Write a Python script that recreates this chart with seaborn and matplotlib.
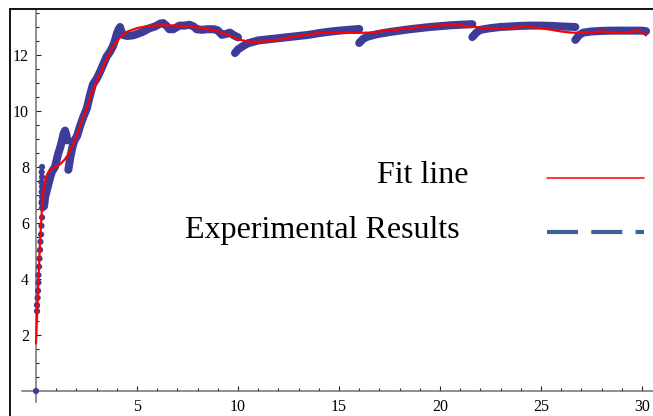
import matplotlib
matplotlib.use("Agg")
import matplotlib.pyplot as plt
from matplotlib.lines import Line2D
from matplotlib.ticker import FixedLocator
import numpy as np
import pandas as pd
import seaborn as sns

# ---- experimental results: isolated early samples ----
dot_x = [0.0, 0.05, 0.05, 0.08, 0.1, 0.12, 0.12, 0.15, 0.17, 0.2, 0.22, 0.25, 0.27,
         0.3, 0.33, 0.3, 0.28, 0.3, 0.28, 0.3, 0.27, 0.3, 0.28, 0.3, 0.28]
dot_y = [0.0, 2.85, 3.07, 3.33, 3.58, 3.87, 4.14, 4.44, 4.73, 5.04, 5.33, 5.59, 5.90,
         6.20, 6.52, 6.54, 6.71, 6.93, 7.11, 7.29, 7.46, 7.64, 7.82, 8.0, 6.76]

# ---- experimental results: dense recorded runs ----
run1_x = [0.4, 0.45, 0.55, 0.69, 0.8, 0.94, 1.09, 1.2, 1.29, 1.37, 1.44, 1.5, 1.55]
run1_y = [6.6, 6.93, 7.2, 7.6, 7.85, 8.0, 8.45, 8.7, 8.95, 9.2, 9.3, 9.15, 8.95]

run2_x = [1.6, 1.7, 1.8, 1.9, 2.03, 2.2, 2.35, 2.52, 2.65, 2.82, 3.0, 3.17, 3.35,
          3.5, 3.65, 3.8, 3.9, 4.0, 4.08, 4.16, 4.22, 4.3, 4.5, 4.8, 5.0, 5.3, 5.6,
          5.9, 6.14, 6.3, 6.45, 6.6, 6.8, 7.1, 7.35, 7.6, 7.8, 7.95, 8.2, 8.5, 8.8,
          9.0, 9.2, 9.4, 9.6, 9.8, 10.0]
run2_y = [7.9, 8.35, 8.7, 8.95, 9.1, 9.5, 9.8, 10.1, 10.5, 10.95, 11.15, 11.4, 11.7,
          11.95, 12.1, 12.3, 12.5, 12.75, 12.9, 13.0, 12.85, 12.72, 12.68, 12.7, 12.75,
          12.83, 12.95, 13.02, 13.12, 13.14, 13.05, 12.92, 12.92, 13.05, 13.05, 13.08,
          13.02, 12.92, 12.9, 12.92, 12.92, 12.88, 12.72, 12.75, 12.8, 12.7, 12.63]

run3_x = [9.85, 10.0, 10.25, 10.5, 10.75, 11.0, 11.5, 12.0, 12.5, 13.0, 13.5, 14.0,
          14.5, 15.0, 15.5, 16.0]
run3_y = [12.07, 12.2, 12.32, 12.42, 12.47, 12.52, 12.56, 12.6, 12.64, 12.68, 12.72,
          12.78, 12.83, 12.87, 12.9, 12.93]

run4_x = [16.0, 16.2, 16.4, 16.75, 17.0, 17.5, 18.0, 18.5, 19.0, 19.5, 20.0, 20.5,
          21.0, 21.6]
run4_y = [12.43, 12.58, 12.65, 12.72, 12.76, 12.82, 12.87, 12.92, 12.96, 13.0, 13.03,
          13.06, 13.08, 13.1]

run5_x = [21.6, 21.8, 22.0, 22.5, 23.0, 23.5, 24.0, 24.5, 25.0, 25.5, 26.0, 26.7]
run5_y = [12.64, 12.8, 12.9, 12.96, 13.0, 13.02, 13.04, 13.05, 13.05, 13.04, 13.02, 13.0]

run6_x = [26.7, 26.9, 27.1, 27.5, 28.0, 28.5, 29.0, 29.5, 30.0, 30.2]
run6_y = [12.54, 12.72, 12.8, 12.84, 12.86, 12.87, 12.87, 12.87, 12.87, 12.85]

# ---- fitted curve ----
fit_x = [0.0, 0.1, 0.2, 0.3, 0.4, 0.5, 0.6, 0.8, 1.0, 1.2, 1.4, 1.6, 1.8, 2.0, 2.25,
         2.5, 2.75, 3.0, 3.25, 3.5, 3.75, 4.0, 4.25, 4.5, 5.0, 5.5, 6.0, 6.5, 7.0, 7.5,
         8.0, 8.5, 9.0, 9.5, 10.0, 10.5, 11.0, 11.5, 12.0, 12.5, 13.0, 13.5, 14.0,
         14.5, 15.0, 15.5, 16.0, 16.5, 17.0, 17.5, 18.0, 18.5, 19.0, 19.5, 20.0, 20.5,
         21.0, 21.5, 22.0, 22.5, 23.0, 23.5, 24.0, 24.5, 25.0, 25.5, 26.0, 26.5, 27.0,
         27.5, 28.0, 28.5, 29.0, 29.5, 29.8, 30.0, 30.2]
fit_y = [1.7, 3.6, 5.3, 6.6, 7.3, 7.65, 7.8, 7.95, 8.02, 8.1, 8.25, 8.45, 8.75, 9.1,
         9.6, 10.1, 10.6, 11.05, 11.45, 11.85, 12.2, 12.5, 12.7, 12.83, 12.96, 13.03,
         13.06, 13.06, 13.05, 13.03, 12.98, 12.92, 12.85, 12.72, 12.56, 12.48, 12.47,
         12.5, 12.55, 12.62, 12.68, 12.74, 12.78, 12.8, 12.8, 12.79, 12.79, 12.8, 12.84,
         12.88, 12.92, 12.96, 13.0, 13.03, 13.06, 13.07, 13.06, 13.02, 12.98, 12.95,
         12.94, 12.96, 13.0, 13.0, 12.96, 12.9, 12.84, 12.8, 12.79, 12.81, 12.84, 12.82,
         12.79, 12.83, 12.86, 12.82, 12.7]

x_ticks = [5, 10, 15, 20, 25, 30]
y_ticks = [2, 4, 6, 8, 10, 12]
legend_labels = ["Fit line", "Experimental Results"]

runs = [(run1_x, run1_y), (run2_x, run2_y), (run3_x, run3_y),
        (run4_x, run4_y), (run5_x, run5_y), (run6_x, run6_y)]
exp_df = pd.concat(
    [pd.DataFrame({"x": rx, "y": ry, "run": i}) for i, (rx, ry) in enumerate(runs)],
    ignore_index=True)
fit_df = pd.DataFrame({"x": fit_x, "y": fit_y})

sns.set_theme(style="ticks")
plt.rcParams["font.family"] = ["Liberation Serif", "DejaVu Serif"]

W, H = 653, 416
fig = plt.figure(figsize=(W / 100, H / 100), dpi=100)
ax = fig.add_axes([0, 0, 1, 1])
ax.set_facecolor("white")

# axes origin sits at (36 px, 391 px from top); 20.2 px per x unit, 28 px per y unit
ax.set_xlim(-36 / 20.2, (W - 36) / 20.2)
ax.set_ylim(-(H - 391) / 28, 391 / 28)

point_col = "#3d3d99"
sns.lineplot(data=exp_df, x="x", y="y", units="run", estimator=None, sort=False,
             color=point_col, lw=5.8, solid_capstyle="round", solid_joinstyle="round",
             legend=False, ax=ax)
sns.scatterplot(x=dot_x, y=dot_y, s=20, color=point_col, edgecolor="none",
                legend=False, ax=ax, zorder=3)
sns.lineplot(data=fit_df, x="x", y="y", estimator=None, sort=False,
             color="#ff0000", lw=1.6, legend=False, ax=ax, zorder=4)

# axes crossing at the origin
for side in ("top", "right"):
    ax.spines[side].set_visible(False)
ax.spines["left"].set_position(("data", 0))
ax.spines["bottom"].set_position(("data", 0))
ax.spines["left"].set_bounds(-0.4, 13.6)
ax.spines["bottom"].set_bounds(-0.7, 30.6)
for side in ("left", "bottom"):
    ax.spines[side].set_color("#707070")
    ax.spines[side].set_linewidth(1.1)

ax.xaxis.set_major_locator(FixedLocator(x_ticks))
ax.xaxis.set_minor_locator(FixedLocator([v for v in range(1, 31) if v % 5]))
ax.yaxis.set_major_locator(FixedLocator(y_ticks))
ax.yaxis.set_minor_locator(FixedLocator([v / 2 for v in range(1, 28) if v % 4]))
ax.set_xticklabels([str(v) for v in x_ticks])
ax.set_yticklabels([str(v) for v in y_ticks])
ax.tick_params(which="both", direction="in", color="#222222", width=0.8,
               bottom=True, left=True, labelsize=11.5, labelcolor="black")
ax.tick_params(which="major", length=3.5)
ax.tick_params(which="minor", length=2)
ax.tick_params(axis="x", which="major", pad=6)
ax.tick_params(axis="y", which="major", pad=5)
ax.set_xlabel("")
ax.set_ylabel("")

# outer frame (left and top edges)
fig.add_artist(Line2D([10 / W, 10 / W], [0, 1 - 9 / H], transform=fig.transFigure,
                      color="black", lw=1.3))
fig.add_artist(Line2D([10 / W, 1], [1 - 9 / H, 1 - 9 / H], transform=fig.transFigure,
                      color="black", lw=1.3))

# legend drawn as text plus sample strokes
fig.text(377 / W, 1 - 183 / H, legend_labels[0], fontsize=23, va="baseline",
         ha="left", color="black")
fig.text(185 / W, 1 - 238 / H, legend_labels[1], fontsize=23, va="baseline",
         ha="left", color="black")
fig.add_artist(Line2D([547 / W, 644 / W], [1 - 178 / H, 1 - 178 / H],
                      transform=fig.transFigure, color="#ff0000", lw=1.1))
fig.add_artist(Line2D([547 / W, 644 / W], [1 - 232 / H, 1 - 232 / H],
                      transform=fig.transFigure, color="#3d6096", lw=3,
                      linestyle=(0, (22.3 / 3, 9.6 / 3)), solid_capstyle="butt",
                      dash_capstyle="butt"))

fig.savefig("out.png", dpi=100)
